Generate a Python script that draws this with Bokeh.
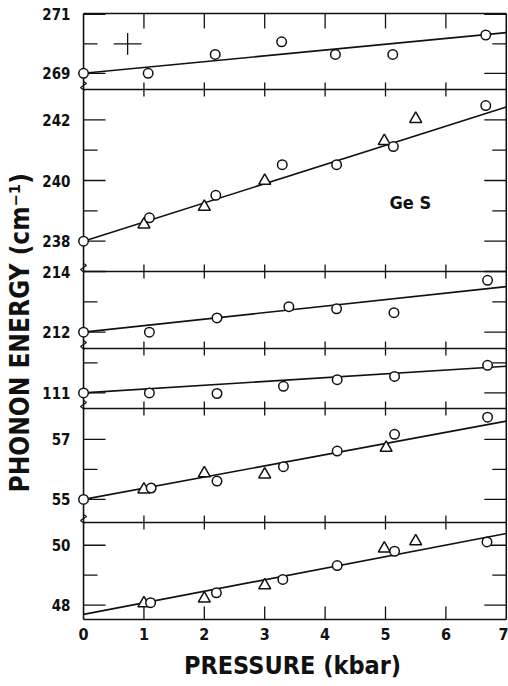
import math
from bokeh.plotting import figure
from bokeh.models import Range1d, FixedTicker
from bokeh.models import Label
from bokeh.embed import file_html
from bokeh.resources import INLINE

# ---------------- data ----------------
pressure_ticks = [0, 1, 2, 3, 4, 5, 6, 7]

panel_names = ["p1", "p2", "p3", "p4", "p5", "p6"]
panel_ranges = [(268.45, 271.03), (237.0, 243.0), (211.46, 214.0),
                (110.48, 112.48), (54.23, 58.03), (47.52, 50.76)]
panel_labels = [[269, 271], [238, 240, 242], [212, 214], [111], [55, 57], [48, 50]]
panel_minor = [[270], [239, 241], [213], [112], [56], [49]]

circ_x = [
    [0, 1.07, 2.18, 3.28, 4.17, 5.12, 6.66],
    [0, 1.09, 2.19, 3.29, 4.19, 5.13, 6.66],
    [0, 1.09, 2.21, 3.40, 4.19, 5.14, 6.69],
    [0, 1.09, 2.21, 3.31, 4.20, 5.15, 6.69],
    [0, 1.12, 2.21, 3.31, 4.20, 5.15, 6.69],
    [1.11, 2.20, 3.30, 4.20, 5.15, 6.68],
]
circ_y = [
    [269.0, 269.0, 269.64, 270.07, 269.64, 269.64, 270.30],
    [238.0, 238.77, 239.51, 240.52, 240.52, 241.12, 242.47],
    [212.0, 212.0, 212.47, 212.84, 212.77, 212.64, 213.71],
    [111.0, 111.0, 110.98, 111.22, 111.44, 111.55, 111.92],
    [55.0, 55.38, 55.61, 56.09, 56.61, 57.17, 57.74],
    [48.08, 48.41, 48.86, 49.32, 49.80, 50.11],
]
tri_x = [
    [],
    [1.0, 2.0, 3.0, 4.98, 5.5],
    [],
    [],
    [1.0, 2.0, 3.0, 5.01],
    [1.0, 2.0, 3.0, 4.98, 5.5],
]
tri_y = [
    [],
    [238.55, 239.13, 239.99, 241.30, 242.03],
    [],
    [],
    [55.33, 55.87, 55.83, 56.72],
    [48.06, 48.22, 48.66, 49.89, 50.13],
]
# fitted straight lines: value at 0 kbar and at 7 kbar
fit_x = [0, 7]
fit_y = [(269.0, 270.38), (238.0, 242.42), (212.0, 213.50),
         (111.0, 111.89), (55.0, 57.61), (47.69, 50.39)]

# error-bar cross in the top panel
err_x, err_y, err_dx, err_dy = 0.73, 270.0, 0.23, 0.37

# ---------------- layout ----------------
panel_px = [76, 182, 77, 60, 114, 97]     # panel heights, top to bottom
V0, V1 = -2, 608                           # virtual pixel range of the frame
FONT = "DejaVu Sans Condensed"
INK = "#111111"
LW = 1.6
NB = "\u00a0"

tops, bots = [], []
acc = sum(panel_px)
for h in panel_px:
    tops.append(acc)
    bots.append(acc - h)
    acc -= h
TOP = tops[0]

p = figure(frame_width=430, frame_height=610,
           x_range=Range1d(-0.1, 7.02), y_range=Range1d(V0, V1),
           output_backend="svg", toolbar_location=None,
           min_border_left=77, min_border_right=1, min_border_top=11,
           min_border_bottom=62)
p.outline_line_color = None
p.grid.visible = False
p.background_fill_color = "white"

extra = {}
for name, (lo, hi), b, h in zip(panel_names, panel_ranges, bots, panel_px):
    s = h / (hi - lo)
    extra[name] = Range1d(lo + (V0 - b) / s, lo + (V1 - b) / s)
p.extra_y_ranges = extra

def vpos(k, v):
    lo, hi = panel_ranges[k]
    return bots[k] + (v - lo) / (hi - lo) * panel_px[k]

# left axis: labels only
ticks, overrides = [], {}
for k, labs in enumerate(panel_labels):
    for v in labs:
        pos = vpos(k, v)
        ticks.append(pos)
        overrides[pos] = str(v)
ya = p.yaxis[0]
ya.ticker = FixedTicker(ticks=ticks, minor_ticks=[])
ya.major_label_overrides = overrides
ya.major_tick_line_color = None
ya.minor_tick_line_color = None
ya.axis_line_color = None
ya.major_label_standoff = 1
ya.major_label_text_font = FONT
ya.major_label_text_font_style = "bold"
ya.major_label_text_font_size = "15px"
ya.major_label_text_color = INK
ya.axis_label = "PHONON ENERGY  (cm⁻¹)" + NB * 3
ya.axis_label_standoff = 4
ya.axis_label_text_font = FONT
ya.axis_label_text_font_style = "bold"
ya.axis_label_text_font_size = "26px"
ya.axis_label_text_color = INK

xa = p.xaxis[0]
xa.ticker = FixedTicker(ticks=pressure_ticks, minor_ticks=[])
xa.major_tick_line_color = None
xa.minor_tick_line_color = None
xa.axis_line_color = None
xa.major_label_standoff = 0
xa.major_label_text_font = FONT
xa.major_label_text_font_style = "bold"
xa.major_label_text_font_size = "16px"
xa.major_label_text_color = INK
xa.axis_label = "PRESSURE (kbar)"
xa.axis_label_standoff = 8
xa.axis_label_text_font = FONT
xa.axis_label_text_font_style = "bold"
xa.axis_label_text_font_size = "25px"
xa.axis_label_text_color = INK

# frame lines
px_per_x = 430 / 7.12
bounds = [0] + sorted(bots[:-1]) + [TOP]
p.segment(x0=[0] * len(bounds), x1=[7] * len(bounds), y0=bounds, y1=bounds,
          line_color=INK, line_width=LW)
p.segment(x0=[0, 7], x1=[0, 7], y0=[0, 0], y1=[TOP, TOP], line_color=INK, line_width=LW)

# x ticks on every boundary
inner = [x for x in pressure_ticks if 0 < x < 7]
sx0, sy0, sy1 = [], [], []
for b in bots[:-1]:
    for x in inner:
        sx0.append(x); sy0.append(b - 7); sy1.append(b + 7)
for x in inner:
    sx0.append(x); sy0.append(TOP - 15); sy1.append(TOP)
    sx0.append(x); sy0.append(0); sy1.append(13)
p.segment(x0=sx0, x1=sx0, y0=sy0, y1=sy1, line_color=INK, line_width=1.3)

# y ticks per panel (left and right)
long_t, short_t = 22 / px_per_x, 14 / px_per_x
for k, name in enumerate(panel_names):
    lv = panel_labels[k]
    mv = panel_minor[k]
    p.segment(x0=[0] * len(lv), x1=[long_t] * len(lv), y0=lv, y1=lv,
              line_color=INK, line_width=1.3, y_range_name=name)
    p.segment(x0=[0] * len(mv), x1=[short_t] * len(mv), y0=mv, y1=mv,
              line_color=INK, line_width=1.3, y_range_name=name)
    p.segment(x0=[7 - long_t] * len(lv), x1=[7] * len(lv), y0=lv, y1=lv,
              line_color=INK, line_width=1.3, y_range_name=name)
    p.segment(x0=[7 - short_t] * len(mv), x1=[7] * len(mv), y0=mv, y1=mv,
              line_color=INK, line_width=1.3, y_range_name=name)

# axis break marks on the left axis
d = 3 / px_per_x
zx, zy = [], []
for b in bots[:-1]:
    zx.append([0, d, -d, d * 0.3]); zy.append([b + 8, b + 6, b + 2, b - 1])
p.multi_line(xs=zx, ys=zy, line_color=INK, line_width=1.2)

# error cross
p.segment(x0=[err_x - err_dx, err_x], x1=[err_x + err_dx, err_x],
          y0=[err_y, err_y - err_dy], y1=[err_y, err_y + err_dy],
          line_color=INK, line_width=1.3, y_range_name="p1")

# fitted lines and points
for k, name in enumerate(panel_names):
    p.line(x=fit_x, y=list(fit_y[k]), line_color=INK, line_width=LW, y_range_name=name)
for k, name in enumerate(panel_names):
    if tri_x[k]:
        p.scatter(x=tri_x[k], y=tri_y[k], marker="triangle", size=12,
                  line_color=INK, line_width=1.5, fill_color="white", y_range_name=name)
    p.scatter(x=circ_x[k], y=circ_y[k], marker="circle", size=9.5,
              line_color=INK, line_width=1.5, fill_color="white", y_range_name=name)

p.add_layout(Label(x=5.41, y=239.26, y_range_name="p2", text="Ge S",
                   text_font=FONT, text_font_style="bold", text_font_size="18px",
                   text_align="center", text_baseline="middle", text_color=INK))

open("out.html", "w").write(file_html(p, INLINE))
